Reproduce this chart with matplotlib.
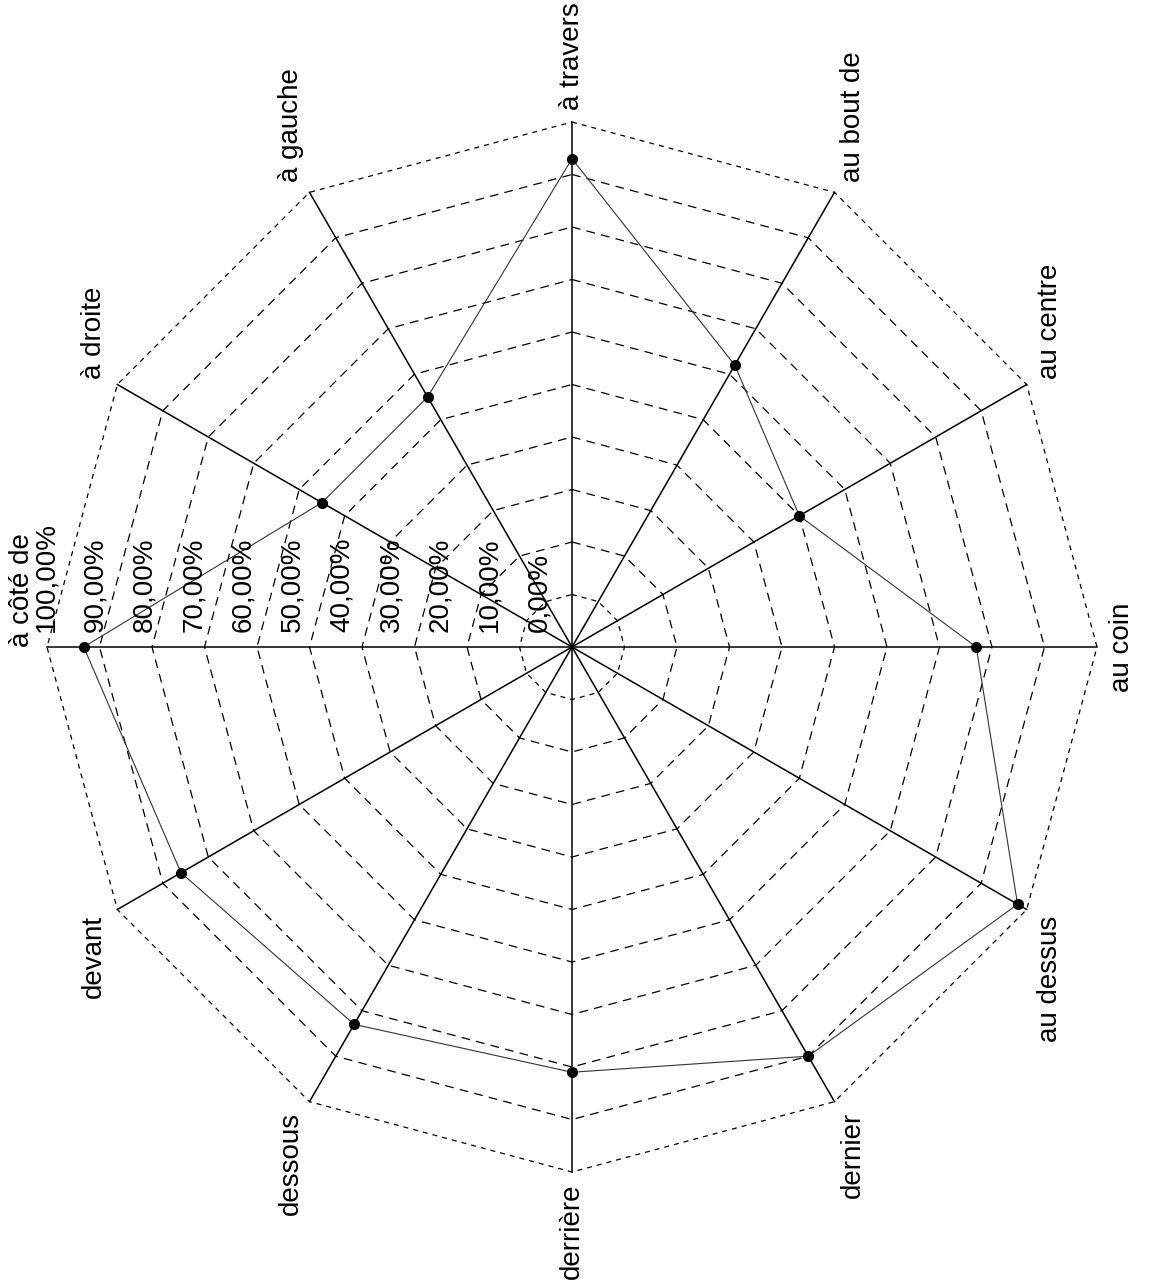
import matplotlib.pyplot as plt
import numpy as np

categories = ['à travers', 'au bout de', 'au centre', 'au coin', 'au dessus', 'dernier',
              'derrière', 'dessous', 'devant', 'à côté de', 'à droite', 'à gauche']
values = [0.93, 0.62, 0.50, 0.77, 0.98, 0.90, 0.81, 0.83, 0.86, 0.93, 0.55, 0.55]
ticks = [0.0, 0.1, 0.2, 0.3, 0.4, 0.5, 0.6, 0.7, 0.8, 0.9, 1.0]
tick_labels = ['0,00%', '10,00%', '20,00%', '30,00%', '40,00%', '50,00%',
               '60,00%', '70,00%', '80,00%', '90,00%', '100,00%']

plt.rcParams['font.family'] = ['Liberation Sans', 'DejaVu Sans']

W, H = 1150, 1283
R = 525.0          # pixels for 100%
cx, cy = 572, 647  # center in pixels from top-left

fig = plt.figure(figsize=(W / 100, H / 100), dpi=100)
ax = fig.add_axes([0, 0, 1, 1])
ax.set_xlim(-cx / R, (W - cx) / R)
ax.set_ylim(-(H - cy) / R, cy / R)
ax.axis('off')

n = len(categories)
ang = np.deg2rad(90 - 30 * np.arange(n))
ca, sa = np.cos(ang), np.sin(ang)

# rings
for t in ticks[1:]:
    xs = np.append(t * ca, t * ca[0])
    ys = np.append(t * sa, t * sa[0])
    dash = (4, 4) if t in (0.1, 1.0) else (7, 5)
    ax.plot(xs, ys, color='black', lw=0.9, dashes=dash)

# spokes
for c, s in zip(ca, sa):
    ax.plot([0, c], [0, s], color='black', lw=1.1)

# data
v = np.array(values)
ax.plot(np.append(v * ca, v[0] * ca[0]), np.append(v * sa, v[0] * sa[0]),
        color='#333333', lw=0.8)
ax.plot(v * ca, v * sa, 'o', color='black', ms=7)

# category labels
pad = 0.022
for name, c, s in zip(categories, ca, sa):
    ha = 'left' if c > 0.1 else ('right' if c < -0.1 else 'center')
    va = 'bottom' if s > 0.1 else ('top' if s < -0.1 else 'center')
    if name == 'à côté de':
        va = 'bottom'
    ax.text(c * (1 + pad), s * (1 + pad), name, rotation=90, ha=ha, va=va,
            fontsize=20)

# value axis labels along the left spoke
for t, lab in zip(ticks, tick_labels):
    x = -(33 + 493 * t) / R
    ax.text(x, 15 / R, lab, rotation=90, ha='center', va='bottom', fontsize=20)

fig.savefig('out.png', dpi=100)
